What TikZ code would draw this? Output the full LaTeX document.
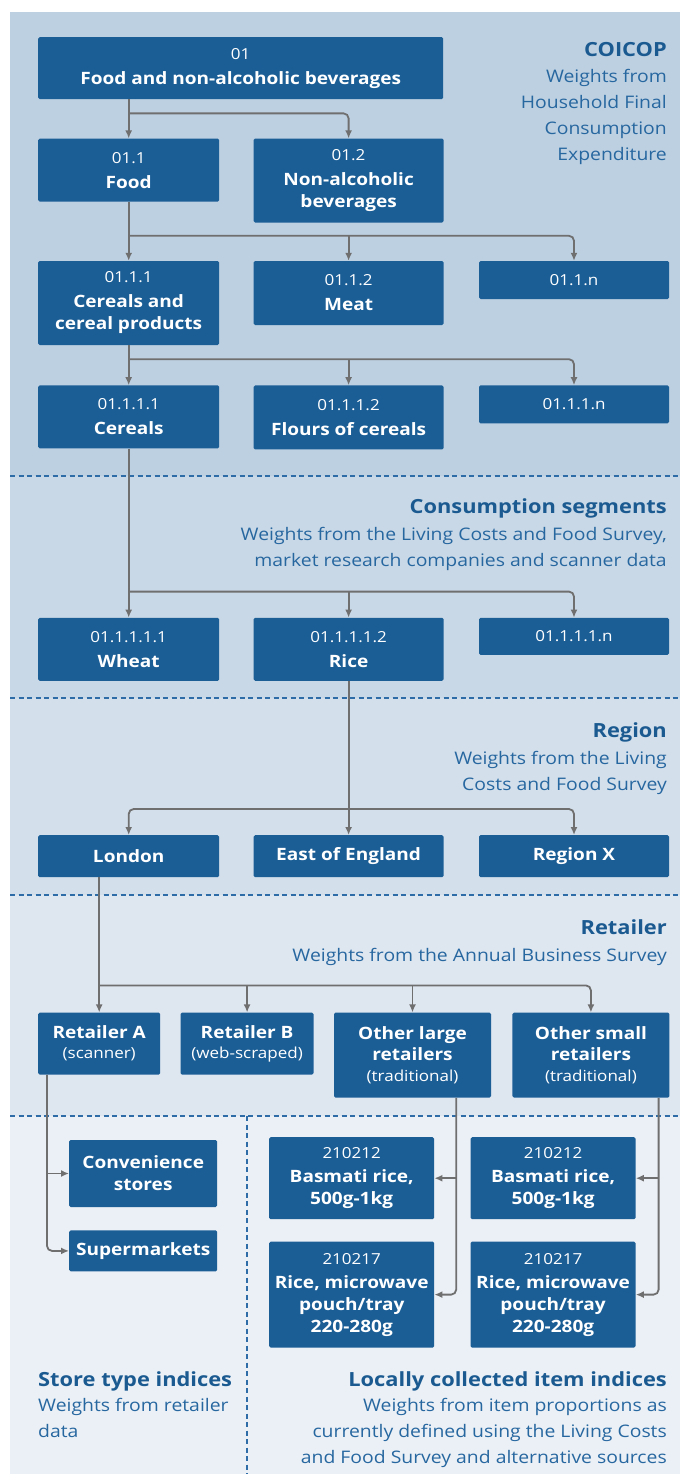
\documentclass[tikz,border=0pt]{standalone}
\usepackage{fontspec}
\setmainfont{Open Sans}[FakeStretch=1.12]
\usetikzlibrary{positioning,calc}
\usetikzlibrary{arrows.meta}

\definecolor{boxblue}{HTML}{1B5E96}
\definecolor{linegray}{HTML}{6F6F6F}
\definecolor{titleblue}{HTML}{1A5A91}
\definecolor{noteblue}{HTML}{2767A0}
\definecolor{dashblue}{HTML}{2D6CA6}
\definecolor{bandA}{HTML}{BDD0E1}
\definecolor{bandB}{HTML}{C9D8E6}
\definecolor{bandC}{HTML}{D3DFEB}
\definecolor{bandD}{HTML}{DEE6F0}
\definecolor{bandE}{HTML}{EBF0F6}

\newcommand{\boxcode}[1]{{\fontsize{15.2}{22}\selectfont\mdseries #1}}

\tikzset{
  catbox/.style 2 args={fill=boxblue, text=white, rounded corners=1.5pt,
    align=center, inner sep=0pt, minimum width=#1pt, minimum height=#2pt,
    font=\fontsize{17}{22}\selectfont\bfseries},
  conn/.style={draw=linegray, line width=1.8pt, rounded corners=5pt,
    -{Latex[length=8pt,width=7pt]}},
  sectline/.style={draw=dashblue, line width=2pt, dash pattern=on 5pt off 3.5pt},
  sechead/.style={text=titleblue, inner sep=0pt,
    font=\fontsize{19.5}{26}\selectfont\bfseries},
  secnote/.style={text=noteblue, inner sep=0pt,
    font=\fontsize{17.3}{26}\selectfont},
}

\begin{document}
\begin{tikzpicture}[x=1pt,y=1pt]
   \useasboundingbox (0,0) rectangle (680,-1474);

   % bands
   \fill[bandA] (10,-12) rectangle (680,-476);
   \fill[bandB] (10,-476) rectangle (680,-698);
   \fill[bandC] (10,-698) rectangle (680,-895);
   \fill[bandD] (10,-895) rectangle (680,-1116);
   \fill[bandE] (10,-1116) rectangle (680,-1474);
   \draw[sectline] (10,-476) -- (680,-476);
   \draw[sectline] (10,-698) -- (680,-698);
   \draw[sectline] (10,-895) -- (680,-895);
   \draw[sectline] (10,-1116) -- (680,-1116);
   \draw[sectline] (247,-1116) -- (247,-1474);

   % section texts (base = last line)
   \node[sechead, anchor=base east] (tcoicop) at (667,-57) {COICOP};
   \node[secnote, anchor=base east, align=right] (ncoicop) at (667,-161)
      {Weights from\\Household Final\\Consumption\\Expenditure};
   \node[sechead, anchor=base east] (tsegment) at (667,-513) {Consumption segments};
   \node[secnote, anchor=base east, align=right] (nsegment) at (667,-566)
      {Weights from the Living Costs and Food Survey,\\market research companies and scanner data};
   \node[sechead, anchor=base east] (tregion) at (667,-737) {Region};
   \node[secnote, anchor=base east, align=right] (nregion) at (667,-790)
      {Weights from the Living\\Costs and Food Survey};
   \node[sechead, anchor=base east] (tretail) at (667,-934) {Retailer};
   \node[secnote, anchor=base east, align=right] (nretail) at (667,-961)
      {Weights from the Annual Business Survey};
   \node[sechead, anchor=base west] (tstore) at (38,-1386) {Store type indices};
   \node[secnote, anchor=base west, align=left] (nstore) at (38,-1437)
      {Weights from retailer\\data};
   \node[sechead, anchor=base east] (tlocal) at (667,-1386) {Locally collected item indices};
   \node[secnote, anchor=base east, align=right] (nlocal) at (667,-1463)
      {Weights from item proportions as\\currently defined using the Living Costs\\and Food Survey and alternative sources};

   % COICOP levels
   \node[catbox={405}{62}, anchor=north west] (c01) at (38,-37)
      {\boxcode{01}\\[3pt]Food and non-alcoholic beverages};
   \node[catbox={181}{63}, below=39pt of c01.south west, anchor=north west] (c011)
      {\boxcode{01.1}\\[3pt]Food};
   \node[catbox={190}{84}, right=34pt of c011.north east, anchor=north west] (c012)
      {\boxcode{01.2}\\[3pt]Non-alcoholic\\beverages};

   \node[catbox={181}{84}, below=59pt of c011.south west, anchor=north west] (c0111)
      {\boxcode{01.1.1}\\[3pt]Cereals and\\cereal products};
   \node[catbox={190}{64}, right=34pt of c0111.north east, anchor=north west] (c0112)
      {\boxcode{01.1.2}\\[3pt]Meat};
   \node[catbox={190}{38}, right=35pt of c0112.north east, anchor=north west] (c011n)
      {\boxcode{01.1.n}};

   \node[catbox={181}{63}, below=40pt of c0111.south west, anchor=north west] (c01111)
      {\boxcode{01.1.1.1}\\[3pt]Cereals};
   \node[catbox={190}{64}, right=34pt of c01111.north east, anchor=north west] (c01112)
      {\boxcode{01.1.1.2}\\[3pt]Flours of cereals};
   \node[catbox={190}{38}, right=35pt of c01112.north east, anchor=north west] (c0111n)
      {\boxcode{01.1.1.n}};

   % consumption segments
   \node[catbox={181}{63}, below=169pt of c01111.south west, anchor=north west] (wheat)
      {\boxcode{01.1.1.1.1}\\[3pt]Wheat};
   \node[catbox={190}{63}, right=34pt of wheat.north east, anchor=north west] (rice)
      {\boxcode{01.1.1.1.2}\\[3pt]Rice};
   \node[catbox={190}{37}, right=35pt of rice.north east, anchor=north west] (segn)
      {\boxcode{01.1.1.1.n}};

   % regions
   \node[catbox={181}{42}, below=154pt of wheat.south west, anchor=north west] (london) {London};
   \node[catbox={190}{42}, right=34pt of london.north east, anchor=north west] (east) {East of England};
   \node[catbox={190}{42}, right=35pt of east.north east, anchor=north west] (regx) {Region X};

   % retailers
   \node[catbox={122}{62}, below=135pt of london.south west, anchor=north west,
         font=\fontsize{17}{20}\selectfont\bfseries] (retA)
      {Retailer A\\\boxcode{(scanner)}};
   \node[catbox={133}{62}, right=20pt of retA.north east, anchor=north west,
         font=\fontsize{17}{20}\selectfont\bfseries] (retB)
      {Retailer B\\\boxcode{(web-scraped)}};
   \node[catbox={157}{85}, right=20pt of retB.north east, anchor=north west,
         font=\fontsize{17}{21}\selectfont\bfseries] (othL)
      {Other large\\retailers\\\boxcode{(traditional)}};
   \node[catbox={157}{85}, right=21pt of othL.north east, anchor=north west,
         font=\fontsize{17}{21}\selectfont\bfseries] (othS)
      {Other small\\retailers\\\boxcode{(traditional)}};

   % store types and items
   \node[catbox={148}{67}, below right=65pt and 31pt of retA.south west] (conv)
      {Convenience\\stores};
   \node[catbox={148}{41}, below=23pt of conv.south west, anchor=north west] (superm)
      {Supermarkets};
   \node[catbox={165}{82}, anchor=north west] (basL) at (269,-1137)
      {\boxcode{210212}\\[2pt]Basmati rice,\\500g-1kg};
   \node[catbox={165}{82}, right=36pt of basL.north east, anchor=north west] (basR)
      {\boxcode{210212}\\[2pt]Basmati rice,\\500g-1kg};
   \node[catbox={165}{106}, below=22pt of basL.south west, anchor=north west] (micL)
      {\boxcode{210217}\\[2pt]Rice, microwave\\pouch/tray\\220-280g};
   \node[catbox={165}{106}, below=22pt of basR.south west, anchor=north west] (micR)
      {\boxcode{210217}\\[2pt]Rice, microwave\\pouch/tray\\220-280g};

   % connectors
   \coordinate (j1) at ([yshift=-14pt]c01.south -| c011.north);
   \draw[conn] (c01.south -| c011.north) -- (c011.north);
   \draw[conn] (j1) -| (c012.north);

   \coordinate (j2) at ([yshift=-34pt]c011.south);
   \draw[conn] (c011.south) -- (c0111.north);
   \draw[conn] (j2) -| (c011n.north);
   \draw[conn] (c0112.north |- j2) -- (c0112.north);

   \coordinate (j3) at ([yshift=-14pt]c0111.south);
   \draw[conn] (c0111.south) -- (c01111.north);
   \draw[conn] (j3) -| (c0111n.north);
   \draw[conn] (c01112.north |- j3) -- (c01112.north);

   \coordinate (j4) at ([yshift=26pt]wheat.north);
   \draw[conn] (c01111.south) -- (wheat.north);
   \draw[conn] (j4) -| (segn.north);
   \draw[conn] (rice.north |- j4) -- (rice.north);

   \coordinate (j5) at ([yshift=26pt]east.north);
   \draw[conn] (rice.south) -- (east.north);
   \draw[conn] (j5) -| (london.north);
   \draw[conn] (j5) -| (regx.north);

   \coordinate (j6) at ([yshift=27pt]retA.north);
   \draw[conn] (london.south -| retA.north) -- (retA.north);
   \draw[conn] (j6) -| (othS.north);
   \draw[conn] (retB.north |- j6) -- (retB.north);
   \draw[conn] (othL.north |- j6) -- (othL.north);

   \coordinate (ra) at ([xshift=9pt]retA.south west);
   \draw[conn] (ra) |- (superm.west);
   \draw[conn] (ra |- conv.west) -- (conv.west);

   \coordinate (ol) at ([xshift=-35pt]othL.south east);
   \draw[conn] (ol) |- (micL.east);
   \draw[conn] (ol |- basL.east) -- (basL.east);

   \coordinate (os) at ([xshift=-11pt]othS.south east);
   \draw[conn] (os) |- (micR.east);
   \draw[conn] (os |- basR.east) -- (basR.east);
\end{tikzpicture}
\end{document}
